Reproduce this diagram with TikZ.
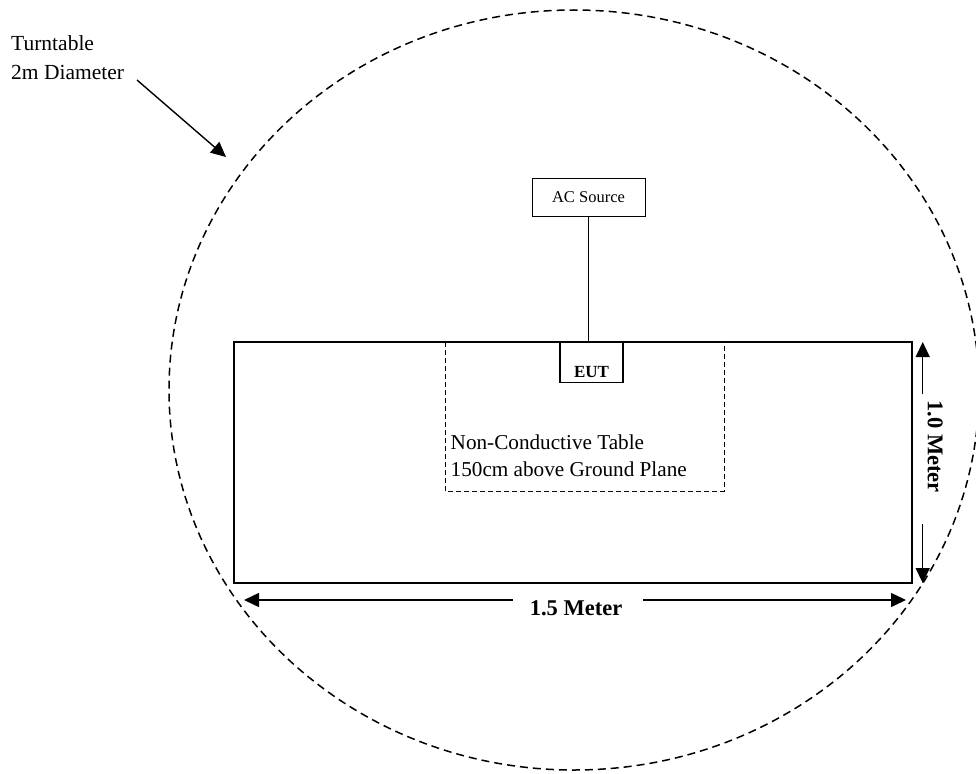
\documentclass[tikz,border=0pt]{standalone}
\usepackage{fontspec}
\setmainfont{Liberation Serif}
\usetikzlibrary{positioning,calc,arrows.meta}
\definecolor{ttLine}{HTML}{000000}

\tikzset{
  ttDash/.style={ttLine, line width=1.5pt, dash pattern=on 8pt off 5pt},
  tblDash/.style={ttLine, line width=1pt, dash pattern=on 5pt off 3pt},
  dimArrow/.style={ttLine, line width=1.4pt, -{Triangle[length=15pt,width=14pt]}},
  boxLabel/.style={draw=ttLine, line width=0.9pt, inner sep=0pt},
  dimLabel/.style={font=\fontsize{22.5}{27}\selectfont\bfseries, inner sep=0pt},
}

\begin{document}
\begin{tikzpicture}[x=1pt, y=-1pt]

\def\ttX{574}
\def\ttY{390}
\def\ttRx{405}
\def\ttRy{380}

\useasboundingbox (0,0) rectangle (976,773);

% --- TURNTABLE (dashed outline) ---
\draw[ttDash] (\ttX,\ttY) ellipse [x radius=\ttRx, y radius=\ttRy];

% --- GROUND PLANE OUTLINE ---
\coordinate (gpNW) at (234,342);
\coordinate (gpSE) at (912,583);
\draw[ttLine, line width=2pt] (gpNW) rectangle (gpSE);

% --- NON-CONDUCTIVE TABLE ---
\coordinate (tblNW) at (445,342);
\coordinate (tblSE) at (724,491);
\draw[tblDash] (tblNW) rectangle (tblSE);
\node[anchor=north west, align=left, inner sep=0pt,
      font=\fontsize{21.2}{26.7}\selectfont]
  (tblLbl) at (450.5,434.5)
  {Non-Conductive Table\\150cm above Ground Plane};

% --- AC SOURCE AND EUT ---
\node[boxLabel, minimum width=113, minimum height=38,
      font=\fontsize{16.5}{20}\selectfont]
  (acSrc) at (588.5,197) {AC Source};
\node[boxLabel, line width=1.2pt, anchor=north, minimum width=63,
      text height=33pt, text depth=3pt, inner ysep=2pt,
      font=\fontsize{17}{20}\selectfont\bfseries]
  (eut) at (591.5,342) {EUT};
\draw[ttLine, line width=0.9pt] (acSrc.south) -- (acSrc.south |- eut.north);

% --- TURNTABLE LABEL ---
\node[anchor=north west, align=left, inner sep=0pt,
      font=\fontsize{21.5}{29}\selectfont]
  (ttLbl) at (11,35.3) {Turntable\\2m Diameter};
\coordinate (ttStart) at (137,80);
\coordinate (ttTip) at (226,157);
\draw[dimArrow] (ttStart) -- (ttTip);

% --- WIDTH DIMENSION ---
\node[dimLabel, anchor=north] (widthLbl) at (576,600.5) {1.5 Meter};
\coordinate (wL) at (244,600);
\coordinate (wR) at (906,600);
\coordinate (wGapL) at (513,600);
\coordinate (wGapR) at (643,600);
\draw[dimArrow] (wGapL) -- (wL);
\draw[dimArrow] (wGapR) -- (wR);

% --- DEPTH DIMENSION ---
\node[dimLabel, rotate=-90] (depthLbl) at (935.3,446.5) {1.0 Meter};
\coordinate (hT) at (922.7,342);
\coordinate (hB) at (922.7,583);
\coordinate (hGapT) at (922.7,394);
\coordinate (hGapB) at (922.7,524);
\draw[dimArrow] (hGapT) -- (hT);
\draw[dimArrow] (hGapB) -- (hB);

\end{tikzpicture}
\end{document}
